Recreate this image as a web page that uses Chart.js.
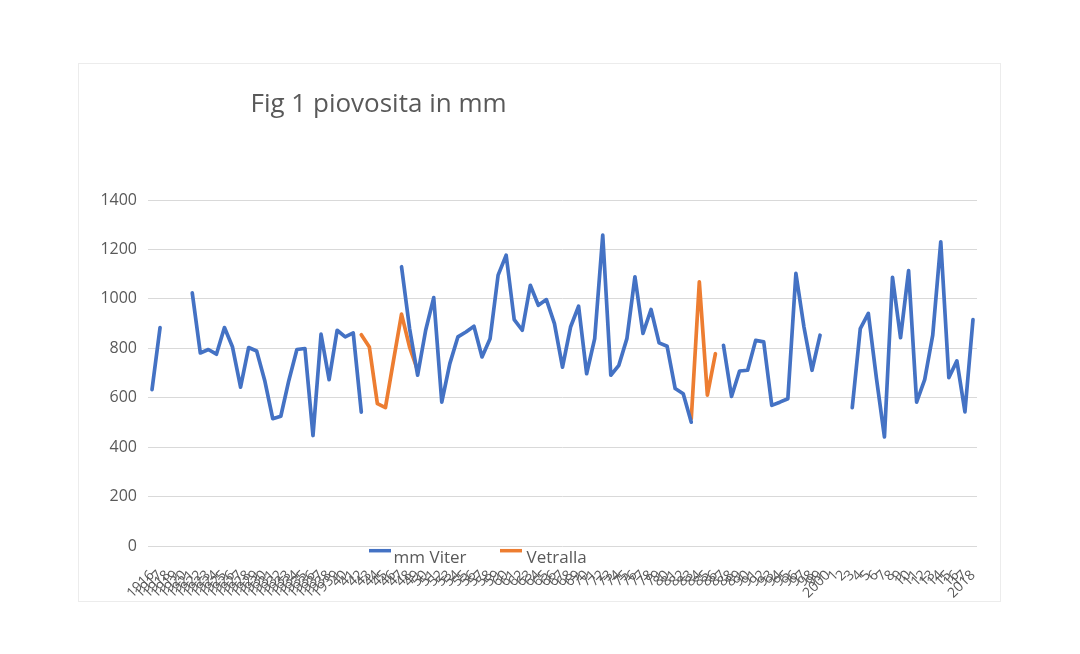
<!DOCTYPE html>
<html>
<head>
<meta charset="utf-8">
<title>Fig 1 piovosita in mm</title>
<script src="https://cdn.jsdelivr.net/npm/chart.js@4.4.1/dist/chart.umd.min.js"></script>
<style>
  html, body { margin: 0; padding: 0; background: #fff; }
  body { width: 1080px; height: 654px; position: relative; overflow: hidden; }
  #cornice { position: absolute; left: 79px; top: 64px; width: 921px; height: 537px; outline: 1px solid #ececec; overflow: hidden; background: #fff; }
  #grafico { position: absolute; left: 0; top: 0; }
</style>
</head>
<body>
<div id="cornice">
  <canvas id="grafico" width="921" height="537"></canvas>
</div>
<script>
// Dati (mm di pioggia per anno)
const TITOLO = 'Fig 1 piovosita in mm';

const anni = [
  '1916', '1917', '1918', '1919', '1920', '1921', '1922', '1923', '1924', '1925',
  '1926', '1927', '1928', '1929', '1930', '1931', '1932', '1933', '1934', '1935',
  '1936', '1937', '1938', '1939', '40', '41', '42', '43', '44', '45',
  '46', '47', '48', '49', '50', '51', '52', '53', '54', '55',
  '56', '57', '58', '59', '60', '61', '62', '63', '64', '65',
  '66', '67', '68', '69', '70', '71', '72', '73', '74', '75',
  '76', '77', '78', '79', '80', '81', '82', '83', '84', '85',
  '86', '87', '88', '89', '90', '91', '92', '93', '94', '95',
  '96', '97', '98', '99', '2000', '1', '2', '3', '4', '5',
  '6', '7', '8', '9', '10', '11', '12', '13', '14', '15',
  '16', '17', '2018'
];

const mmViter = [
  633, 884, null, null, null, 1024, 781, 795, 776, 884,
  805, 643, 803, 789, 670, 515, 525, 670, 795, 799,
  447, 857, 673, 873, 846, 862, 542, null, null, null,
  null, 1130, 880, 691, 873, 1005, 582, 738, 846, 866,
  889, 765, 839, 1096, 1177, 916, 873, 1055, 974, 997,
  900, 724, 886, 970, 697, 839, 1258, 691, 731, 839,
  1089, 860, 957, 822, 808, 637, 616, 501, null, null,
  null, 812, 605, 708, 711, 832, 826, 569, 582, 596,
  1103, 886, 711, 853, null, null, null, 560, 880, 941,
  680, 441, 1087, 843, 1114, 582, 673, 853, 1231, 681,
  749, 543, 916
];

const vetralla = [
  null, null, null, null, null, null, null, null, null, null,
  null, null, null, null, null, null, null, null, null, null,
  null, null, null, null, null, null, 855, 805, 576, 560,
  750, 938, 805, 711, null, null, null, null, null, null,
  null, null, null, null, null, null, null, null, null, null,
  null, null, null, null, null, null, null, null, null, null,
  null, null, null, null, null, null, null, 515, 1069, 610,
  778, null, null, null, null, null, null, null, null, null,
  null, null, null, null, null, null, null, null, null, null,
  null, null, null, null, null, null, null, null, null, null,
  null, null, null
];

const tickY = [0, 200, 400, 600, 800, 1000, 1200, 1400];

const GRIGIO = '#595959';
Chart.defaults.font.family = '"Open Sans", sans-serif';

// Titolo e legenda disegnati a mano, come nel foglio Excel originale
const titoloELegenda = {
  id: 'titoloELegenda',
  afterDraw(chart) {
    const ctx = chart.ctx;
    ctx.save();
    ctx.fillStyle = GRIGIO;
    ctx.textBaseline = 'alphabetic';
    ctx.font = '26px "Open Sans"';
    ctx.fillText(TITOLO, 171.5, 48);

    // legenda
    const voci = [
      { x: 290, testoX: 314.6 },
      { x: 421, testoX: 447.5 }
    ];
    ctx.font = '17px "Open Sans"';
    chart.data.datasets.forEach((ds, i) => {
      const v = voci[i];
      ctx.strokeStyle = ds.borderColor;
      ctx.lineWidth = 3.5;
      ctx.beginPath();
      ctx.moveTo(v.x, 486.7);
      ctx.lineTo(v.x + 22, 486.7);
      ctx.stroke();
      ctx.fillStyle = GRIGIO;
      ctx.fillText(ds.label, v.testoX, 499);
    });
    ctx.restore();
  }
};

const ctx = document.getElementById('grafico').getContext('2d');
new Chart(ctx, {
  type: 'line',
  data: {
    labels: anni,
    datasets: [
      {
        label: 'mm Viter',
        data: mmViter,
        borderColor: '#4472C4',
        backgroundColor: '#4472C4',
        borderWidth: 3.7,
        pointRadius: 0,
        tension: 0,
        borderJoinStyle: 'round',
        borderCapStyle: 'round',
        spanGaps: false
      },
      {
        label: 'Vetralla',
        data: vetralla,
        borderColor: '#ED7D31',
        backgroundColor: '#ED7D31',
        borderWidth: 3.7,
        pointRadius: 0,
        tension: 0,
        borderJoinStyle: 'round',
        borderCapStyle: 'round',
        spanGaps: false
      }
    ]
  },
  options: {
    responsive: false,
    animation: false,
    devicePixelRatio: 1,
    layout: { padding: { left: 0, right: 23, top: 136, bottom: 0 } },
    plugins: {
      legend: { display: false },
      title: { display: false },
      tooltip: { enabled: false }
    },
    scales: {
      x: {
        offset: true,
        grid: { display: false },
        border: { display: false },
        ticks: {
          autoSkip: false,
          minRotation: 45,
          maxRotation: 45,
          padding: 13,
          color: GRIGIO,
          font: { size: 14 }
        },
        afterFit(scale) { scale.height = 55; }
      },
      y: {
        min: 0,
        max: 1400,
        grid: { color: '#d9d9d9', lineWidth: 1, drawTicks: false },
        border: { display: false },
        ticks: {
          stepSize: 200,
          padding: 11,
          color: GRIGIO,
          font: { size: 16 },
          callback: v => String(v)
        },
        afterBuildTicks(scale) { scale.ticks = tickY.map(v => ({ value: v })); },
        afterFit(scale) { scale.width = 69; }
      }
    }
  },
  plugins: [titoloELegenda]
});
</script>
</body>
</html>
